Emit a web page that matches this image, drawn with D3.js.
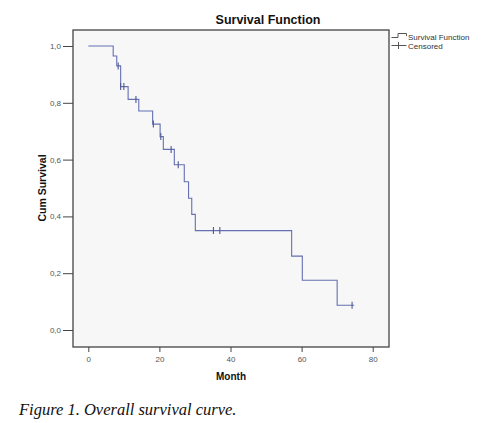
<!DOCTYPE html>
<html><head><meta charset="utf-8">
<script src="https://cdn.jsdelivr.net/npm/d3@7/dist/d3.min.js"></script>
<style>body{margin:0;background:#fff;}svg{display:block;}</style>
</head><body>
<script>
// Data
const eventTimes = [0, 7.0, 8.0, 9.1, 11.2, 14.2, 18.1, 20.2, 21.1, 24.2, 27.0, 28.2, 29.1, 30.1, 57.2, 60.2, 70.0];
const survival   = [1.0, 0.965, 0.93, 0.857, 0.812, 0.771, 0.725, 0.681, 0.636, 0.582, 0.522, 0.464, 0.407, 0.35, 0.26, 0.175, 0.087];
const endTime = 74.8;
const censorTimes = [8.4, 9.1, 10.0, 13.4, 18.3, 20.4, 23.3, 25.3, 35.2, 37.0, 74.2];
const xTicks = [0, 20, 40, 60, 80];
const yTicks = [0, 0.2, 0.4, 0.6, 0.8, 1.0];
const legendLabels = ["Survival Function", "Censored"];

const W = 483, H = 423;
const box = {l: 73, t: 30, r: 389, b: 347};
const x = d3.scaleLinear().domain([0, 80]).range([88.3, 372.7]);
const y = d3.scaleLinear().domain([0, 1]).range([330, 46]);

const svg = d3.select("body").append("svg").attr("width", W).attr("height", H);
const lineColor = "#6570b3";

svg.append("rect").attr("x", box.l).attr("y", box.t).attr("width", box.r - box.l).attr("height", box.b - box.t)
  .attr("fill", "#f7f7f7").attr("stroke", "#444").attr("stroke-width", 1.3);

// Y axis
const yAxis = d3.axisLeft(y).tickValues(yTicks).tickSize(10).tickPadding(2)
  .tickFormat(d => d3.format(".1f")(d).replace(".", ","));
const gy = svg.append("g").attr("transform", `translate(${box.l},0)`).call(yAxis);
gy.select(".domain").remove();
gy.selectAll(".tick line").attr("stroke", "#444");
gy.selectAll(".tick text").attr("fill", "#555").style("font", "8px 'Liberation Sans', Arial, sans-serif");

// X axis
const xAxis = d3.axisBottom(x).tickValues(xTicks).tickSize(5).tickPadding(4);
const gx = svg.append("g").attr("transform", `translate(0,${box.b})`).call(xAxis);
gx.select(".domain").remove();
gx.selectAll(".tick line").attr("stroke", "#444");
gx.selectAll(".tick text").attr("fill", "#555").style("font", "8px 'Liberation Sans', Arial, sans-serif");

// Survival step curve
const pts = eventTimes.map((t, i) => [t, survival[i]]);
pts.push([endTime, survival[survival.length - 1]]);
const line = d3.line().x(d => x(d[0])).y(d => y(d[1])).curve(d3.curveStepAfter);
svg.append("path").datum(pts).attr("d", line).attr("fill", "none").attr("stroke", lineColor).attr("stroke-width", 1.1);

// Censor marks
function survAt(t) { let s = 1; eventTimes.forEach((e, i) => { if (e <= t) s = survival[i]; }); return s; }
svg.append("g").selectAll("line").data(censorTimes).join("line")
  .attr("x1", d => x(d)).attr("x2", d => x(d))
  .attr("y1", d => y(survAt(d)) - 3.5).attr("y2", d => y(survAt(d)) + 3.5)
  .attr("stroke", "#4e5994").attr("stroke-width", 1.1);

// Title & axis labels
svg.append("text").attr("x", 268).attr("y", 24).attr("text-anchor", "middle")
  .style("font", "bold 12.5px 'Liberation Sans', Arial, sans-serif").attr("fill", "#111").text("Survival Function");
svg.append("text").attr("x", 231).attr("y", 380).attr("text-anchor", "middle")
  .style("font", "bold 10px 'Liberation Sans', Arial, sans-serif").attr("fill", "#111").text("Month");
svg.append("text").attr("transform", "translate(46,188) rotate(-90)").attr("text-anchor", "middle")
  .style("font", "bold 10.5px 'Liberation Sans', Arial, sans-serif").attr("fill", "#111").text("Cum Survival");

// Legend
const lg = svg.append("g");
lg.append("path").attr("d", "M391.5,37.5 H398 V33.5 H406.5 V36").attr("fill", "none").attr("stroke", "#555").attr("stroke-width", 1);
lg.append("path").attr("d", "M391.5,45.5 H406.5 M398.5,42 V49").attr("fill", "none").attr("stroke", "#555").attr("stroke-width", 1);
lg.selectAll("text").data(legendLabels).join("text")
  .attr("x", 408).attr("y", (d, i) => 40 + i * 8.5)
  .style("font", "8px 'Liberation Sans', Arial, sans-serif").attr("fill", "#333").text(d => d);

// Caption
svg.append("text").attr("x", 19).attr("y", 415)
  .style("font", "italic 16.5px 'Liberation Serif', 'DejaVu Serif', serif").attr("fill", "#111")
  .text("Figure 1. Overall survival curve.");
</script>
</body></html>
